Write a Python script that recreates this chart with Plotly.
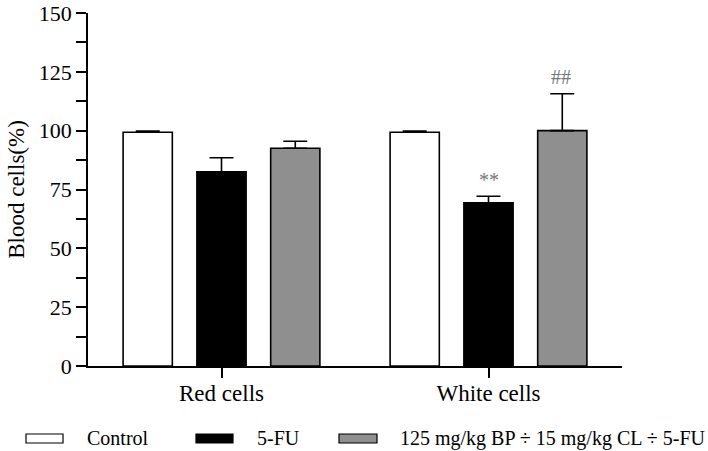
import plotly.graph_objects as go

categories = ["Red cells", "White cells"]
series_names = ["Control", "5-FU", "125 mg/kg BP ÷ 15 mg/kg CL ÷ 5-FU"]
control_vals = [99.3, 99.3]
control_err = [0.5, 0.5]
fu_vals = [82.5, 69.3]
fu_err = [6.0, 2.8]
combo_vals = [92.5, 100.0]
combo_err = [3.0, 15.7]
y_ticks = [0, 25, 50, 75, 100, 125, 150]
sig_labels = [(1, 1, "**", 79), (2, 1, "##", 123)]  # (series idx, category idx, text, y)

FONT = "Liberation Serif, Times New Roman, serif"
colors = ["#ffffff", "#000000", "#8f8f8f"]
vals = [control_vals, fu_vals, combo_vals]
errs = [control_err, fu_err, combo_err]

W, H = 708, 451
L, R, T, B = 88, 86, 13, 85
PW, PH = W - L - R, H - T - B

def px_to_paper_x(px):
    return (px - L) / PW

def px_to_paper_y(py):
    return (T + PH - py) / PH

fig = go.Figure()
for name, v, e, c in zip(series_names, vals, errs, colors):
    fig.add_trace(go.Bar(
        x=categories, y=v, name=name,
        marker=dict(color=c, line=dict(color="#000", width=1.6)),
        error_y=dict(type="data", symmetric=False, array=e,
                     arrayminus=[0] * len(e), color="#000",
                     thickness=1.6, width=12),
        showlegend=False,
    ))

slot = 0.273
for s_idx, cat_idx, txt, yv in sig_labels:
    fig.add_annotation(x=cat_idx + (s_idx - 1) * slot, y=yv, text=txt,
                       showarrow=False, xref="x", yref="y",
                       font=dict(family=FONT, size=20, color="#777"))

# manual legend (wide rectangular swatches as in the reference)
leg_pos = [(26, 63, 85), (196, 233, 255), (339, 377, 398)]
for (x0, x1, xt), name, c in zip(leg_pos, series_names, colors):
    fig.add_shape(type="rect", xref="paper", yref="paper",
                  x0=px_to_paper_x(x0), x1=px_to_paper_x(x1),
                  y0=px_to_paper_y(443), y1=px_to_paper_y(434),
                  fillcolor=c, line=dict(color="#000", width=1.2))
    fig.add_annotation(xref="paper", yref="paper",
                       x=px_to_paper_x(xt), y=px_to_paper_y(438.5),
                       text=name, showarrow=False, xanchor="left", yanchor="middle",
                       font=dict(family=FONT, size=20, color="#000"))

fig.update_layout(
    width=W, height=H,
    margin=dict(l=L, r=R, t=T, b=B),
    paper_bgcolor="white", plot_bgcolor="white",
    barmode="group", bargap=0.171, bargroupgap=0.333,
    font=dict(family=FONT, color="#000"),
    xaxis=dict(range=[-0.5, 1.5], showline=True, linecolor="#000", linewidth=1.6,
               ticks="outside", ticklen=10, tickwidth=1.6, tickcolor="#000",
               tickfont=dict(family=FONT, size=23), showgrid=False, zeroline=False,
               automargin=False, ticklabelstandoff=-4),
    yaxis=dict(range=[0, 150], tickvals=y_ticks, showline=True, linecolor="#000",
               linewidth=1.6, ticks="outside", ticklen=10, tickwidth=1.6,
               tickcolor="#000", tickfont=dict(family=FONT, size=22),
               showgrid=False, zeroline=False, automargin=False,
               ticklabeloverflow="allow",
               minor=dict(dtick=12.5, ticks="outside", ticklen=10, tickwidth=1.6,
                          tickcolor="#000", showgrid=False),
               title=dict(text="Blood cells(%)", font=dict(family=FONT, size=23),
                          standoff=8)),
)

fig.write_html("out.html", config={"displayModeBar": False},
               post_script="document.body.style.margin='0';")
